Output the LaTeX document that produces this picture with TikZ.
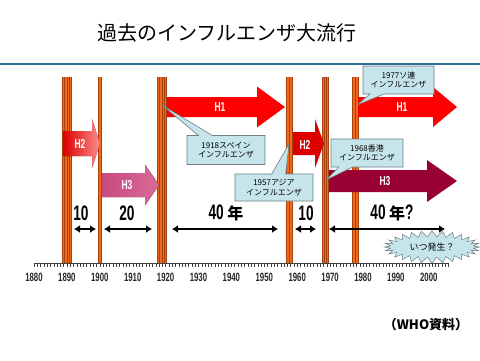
\documentclass[tikz,border=0pt]{standalone}
\usepackage{fontspec}
\setmainfont{Liberation Sans}
\newfontfamily\jp{Noto Sans CJK JP}
\usepackage{graphicx}
\usetikzlibrary{arrows.meta,shapes.callouts,shapes.symbols}

\definecolor{barorange}{HTML}{F06A1C}
\definecolor{barstripe}{HTML}{A8400C}
\definecolor{boxblue}{HTML}{C6E4EB}
\definecolor{boxgray}{HTML}{6E7E84}
\definecolor{lineblue}{HTML}{2F6F93}
\definecolor{hred}{HTML}{FF0000}
\definecolor{hdarkred}{HTML}{DD0000}
\definecolor{hwine}{HTML}{990033}
\definecolor{hpinkl}{HTML}{C84A80}
\definecolor{hpinkr}{HTML}{D86A98}

\tikzset{
  callout/.style={rectangle callout, fill=boxblue, draw=boxgray, line width=0.6pt,
    font=\jp\fontsize{8}{9.5}\selectfont, align=center, inner sep=1pt,
    callout pointer width=14pt},
  span/.style={<->, line width=2.3pt, >={Latex[length=6pt,width=8pt]}},
  spanlabel/.style={font=\bfseries\fontsize{21}{21}\selectfont},
  hlabel/.style={text=white, font=\bfseries\fontsize{13}{13}\selectfont},
  yearlabel/.style={font=\bfseries\fontsize{12}{12}\selectfont, text=black!85},
  burst/.style={starburst, starburst points=28, starburst point height=6pt,
    random starburst=0, fill=boxblue, draw=boxgray, line width=0.5pt,
    inner xsep=7pt, inner ysep=3pt,
    font=\jp\fontsize{9}{9}\selectfont}
}

% squeezed digits
\newcommand{\narrow}[1]{\scalebox{0.65}[1]{#1}}
% x position of a year
\newcommand{\yx}[1]{34+(#1-1880)*3.29}
% pandemic bar: left edge, width, stripe offsets
\newcommand{\flubar}[3]{%
  \fill[barorange] (#1,77) rectangle (#1+#2,263);
  \foreach \s in {#3} \draw[barstripe, line width=0.6pt] (#1+\s,77) -- (#1+\s,263);}
% fat arrow: tail x, head x, tip x, centre y, body half, head half, fill
\newcommand{\fluarrow}[7]{%
  \fill[#7] (#1,#4-#5) -- (#2,#4-#5) -- (#2,#4-#6) -- (#3,#4) -- (#2,#4+#6)
    -- (#2,#4+#5) -- (#1,#4+#5) -- cycle;}

\begin{document}
\begin{tikzpicture}[x=1pt,y=-1pt]
    \fill[white] (0,0) rectangle (480,360);
    \useasboundingbox (0,0) rectangle (480,360);
    %title
    \node (title) at (227,33) {\jp\fontsize{20}{20}\selectfont 過去のインフルエンザ大流行};
    \draw[lineblue, line width=2.5pt] (0,64) -- (480,64);
    %time axis
    \draw[black!75, line width=0.5pt] ({\yx{1880}},263) -- ({\yx{2006}},263);
    \foreach \yr in {1880,...,2006}
      \draw[black!75, line width=0.4pt] ({\yx{\yr}},263) -- ({\yx{\yr}},267);
    \foreach \yr in {1880,1890,...,2000}
      \node[yearlabel] (y\yr) at ({\yx{\yr}},277) {\narrow{\yr}};
    %pandemic bars
    \flubar{62}{10}{0.3,2.5,5,7.5,9.7}
    \flubar{98}{4}{0.3,3.7}
    \flubar{157}{10}{0.3,2.5,5,7.5,9.7}
    \flubar{286}{7}{0.3,3.5,6.7}
    \flubar{322}{7}{0.3,2.4,4.6,6.7}
    \flubar{352}{6.5}{0.3,3.2,6.2}
    %subtype arrows
    \fluarrow{63}{92}{100}{143.5}{12.5}{24.5}{left color=red!85!black, right color=red!45!white}
    \fluarrow{102}{145}{159}{185}{12}{20.5}{left color=hpinkl, right color=hpinkr}
    \fluarrow{167}{257}{285}{107}{10}{20.5}{hred}
    \fluarrow{293}{315}{324}{143.5}{11.5}{24.5}{hdarkred}
    \fluarrow{358}{433}{457}{107}{10}{20}{hred}
    \fluarrow{329}{427}{457}{181}{11}{21}{hwine}
    \node[hlabel] (h2a) at (80,144) {\narrow{H2}};
    \node[hlabel] (h3a) at (127,185) {\narrow{H3}};
    \node[hlabel] (h1a) at (220,107) {\narrow{H1}};
    \node[hlabel] (h2b) at (305,145) {\narrow{H2}};
    \node[hlabel] (h1b) at (402,107) {\narrow{H1}};
    \node[hlabel] (h3b) at (385,181) {\narrow{H3}};
    %callouts
    \coordinate (p1918) at (162,105);
    \coordinate (p1957) at (289,144);
    \coordinate (p1968) at (326,180);
    \coordinate (p1977) at (357,105);
    \node[callout, minimum width=78pt, minimum height=29pt, callout absolute pointer=(p1918)]
      (spain) at (226,150) {1918スペイン\\インフルエンザ};
    \node[callout, minimum width=78pt, minimum height=27pt, callout absolute pointer=(p1957)]
      (asia) at (274,187.5) {1957アジア\\インフルエンザ};
    \node[callout, minimum width=72pt, minimum height=28pt, callout absolute pointer=(p1968)]
      (hongkong) at (367,153) {1968香港\\インフルエンザ};
    \node[callout, minimum width=71pt, minimum height=28pt, callout absolute pointer=(p1977)]
      (russia) at (398.5,80) {1977ソ連\\インフルエンザ};
    %intervals
    \coordinate (a1) at (74,229);  \coordinate (b1) at (96,229);
    \coordinate (a2) at (104,229); \coordinate (b2) at (152,229);
    \coordinate (a3) at (172,229); \coordinate (b3) at (278,229);
    \coordinate (a4) at (295,229); \coordinate (b4) at (316,229);
    \coordinate (a5) at (329,229); \coordinate (b5) at (445,229);
    \foreach \i in {1,...,5}
      \draw[span] (a\i) -- (b\i);
    \node[spanlabel] (s1) at (81,213) {\narrow{10}};
    \node[spanlabel] (s2) at (127,213) {\narrow{20}};
    \node[spanlabel] (s3) at (226,213) {\narrow{40}\,{\jp\fontsize{16}{16}\selectfont 年}};
    \node[spanlabel] (s4) at (306,213) {\narrow{10}};
    \node[spanlabel] (s5) at (392,213) {\narrow{40}\,{\jp\fontsize{16}{16}\selectfont 年}\narrow{?}};
    %next one
    \node[burst] (when) at (432,247) {いつ発生？};
    \node (source) at (426,325) {\jp\bfseries\fontsize{13}{13}\selectfont （WHO資料）};
\end{tikzpicture}
\end{document}
